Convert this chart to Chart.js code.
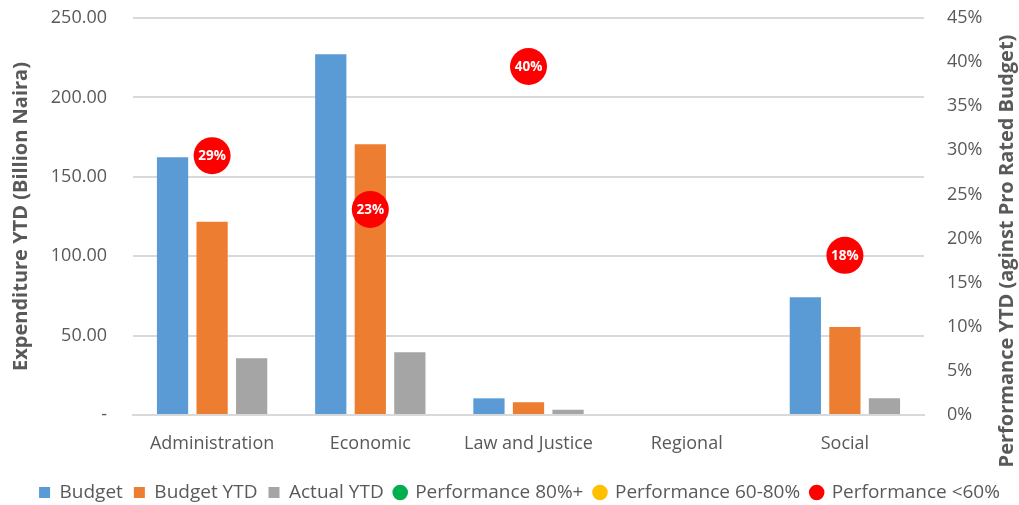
<!DOCTYPE html>
<html>
<head>
<meta charset="utf-8">
<script src="https://cdn.jsdelivr.net/npm/chart.js@4.4.1/dist/chart.umd.min.js"></script>
<style>
  html, body { margin: 0; padding: 0; background: #fff; }
  #wrap { width: 1019px; height: 505px; }
</style>
</head>
<body>
<div id="wrap"><canvas id="expChart"></canvas></div>
<script>
var categories = ['Administration', 'Economic', 'Law and Justice', 'Regional', 'Social'];
var budget = [162.3, 227.1, 10.5, 0, 74.1];
var budgetYtd = [121.7, 170.5, 8.0, 0, 55.4];
var actualYtd = [35.7, 39.5, 3.3, 0, 10.5];
// performance YTD against pro rated budget (null = no point)
var performance = [0.294, 0.233, 0.395, null, 0.181];
var leftTicks = [0, 50, 100, 150, 200, 250];
var rightTicks = [0, 0.05, 0.10, 0.15, 0.20, 0.25, 0.30, 0.35, 0.40, 0.45];

var textColor = '#595959';
var fontName = "'Open Sans', 'Noto Sans', sans-serif";
var rightTitle = 'Performance YTD (aginst Pro Rated Budget)';

function band(lo, hi) {
     return performance.map(function(v) {
          return (v !== null && v >= lo && v < hi) ? v : null;
     });
}

function pointSet(label, color, data) {
     return {
          type: 'line',
          label: label,
          data: data,
          yAxisID: 'y1',
          showLine: false,
          pointStyle: 'circle',
          pointRadius: 18.5,
          pointHoverRadius: 18.5,
          backgroundColor: color,
          borderColor: color,
          borderWidth: 0,
          order: 0
     };
}

function barSet(label, color, data) {
     return {
          type: 'bar',
          label: label,
          data: data,
          yAxisID: 'y',
          backgroundColor: color,
          borderWidth: 0,
          pointStyle: 'rect',
          barPercentage: 0.79,
          categoryPercentage: 0.75,
          order: 1
     };
}

// fixed axis width, and only half a label of overhang above/below
function fixWidth(w) {
     return function(axis) {
          axis.width = w;
          axis.paddingTop = 11;
          axis.paddingBottom = 11;
     };
}

// white percentage text inside the bubbles, plus the right axis title (reads bottom to top)
var extras = {
     id: 'extras',
     afterLayout: function(chart) {
          // move the legend row a little lower and to the right, like the original
          chart.legend.top += 7;
          chart.legend.bottom += 7;
          chart.legend.left += 10;
          chart.legend.right += 10;
     },
     afterDatasetsDraw: function(chart) {
          var ctx = chart.ctx;
          chart.data.datasets.forEach(function(ds, i) {
               if (ds.type !== 'line') return;
               var meta = chart.getDatasetMeta(i);
               meta.data.forEach(function(pt, j) {
                    var v = ds.data[j];
                    if (v === null || v === undefined) return;
                    ctx.save();
                    ctx.fillStyle = '#ffffff';
                    ctx.font = "bold 13.5px " + fontName;
                    ctx.textAlign = 'center';
                    ctx.textBaseline = 'middle';
                    ctx.fillText(Math.round(v * 100) + '%', pt.x, pt.y + 1);
                    ctx.restore();
               });
          });
     },
     afterDraw: function(chart) {
          var ctx = chart.ctx;
          ctx.save();
          ctx.translate(1007, 251);
          ctx.rotate(-Math.PI / 2);
          ctx.fillStyle = textColor;
          ctx.font = "bold 20px " + fontName;
          ctx.textAlign = 'center';
          ctx.textBaseline = 'middle';
          ctx.fillText(rightTitle, 0, 0);
          ctx.restore();
     }
};

new Chart(document.getElementById('expChart'), {
     data: {
          labels: categories,
          datasets: [
               barSet('Budget', '#5b9bd5', budget),
               barSet('Budget YTD', '#ed7d31', budgetYtd),
               barSet('Actual YTD', '#a5a5a5', actualYtd),
               pointSet('Performance 80%+', '#00b050', band(0.8, 10)),
               pointSet('Performance 60-80%', '#ffc000', band(0.6, 0.8)),
               pointSet('Performance <60%', '#ff0000', band(-10, 0.6))
          ]
     },
     plugins: [extras],
     options: {
          responsive: true,
          maintainAspectRatio: false,
          animation: false,
          layout: { autoPadding: false, padding: { top: 18, left: 0, right: 0, bottom: 0 } },
          plugins: {
               tooltip: { enabled: false },
               legend: {
                    position: 'bottom',
                    labels: {
                         usePointStyle: true,
                         boxWidth: 11,
                         boxHeight: 11,
                         padding: 11,
                         color: textColor,
                         font: { family: fontName, size: 19 },
                         sort: function(a, b) { return a.datasetIndex - b.datasetIndex; }
                    }
               }
          },
          scales: {
               x: {
                    grid: { display: false },
                    border: { color: '#d9d9d9', width: 2 },
                    ticks: { color: textColor, font: { family: fontName, size: 18 }, padding: 10 },
                    afterFit: function(axis) { axis.height = 50; }
               },
               y: {
                    position: 'left',
                    min: 0,
                    max: 250,
                    afterBuildTicks: function(axis) {
                         axis.ticks = leftTicks.map(function(v) { return { value: v }; });
                    },
                    afterFit: fixWidth(133),
                    ticks: {
                         color: textColor,
                         font: { family: fontName, size: 18 },
                         padding: 26,
                         callback: function(v) { return v === 0 ? '-' : v.toFixed(2); }
                    },
                    grid: { color: '#d9d9d9', lineWidth: 2, drawTicks: false },
                    border: { display: false },
                    title: {
                         display: true,
                         text: 'Expenditure YTD (Billion Naira)',
                         color: textColor,
                         padding: { top: 9, bottom: 0 },
                         font: { family: fontName, size: 20, weight: 'bold' }
                    }
               },
               y1: {
                    position: 'right',
                    min: 0,
                    max: 0.45,
                    afterBuildTicks: function(axis) {
                         axis.ticks = rightTicks.map(function(v) { return { value: v }; });
                    },
                    afterFit: fixWidth(95),
                    ticks: {
                         color: textColor,
                         font: { family: fontName, size: 18 },
                         padding: 23,
                         callback: function(v) { return Math.round(v * 100) + '%'; }
                    },
                    grid: { display: false, drawTicks: false },
                    border: { display: false }
               }
          }
     }
});
</script>
</body>
</html>
